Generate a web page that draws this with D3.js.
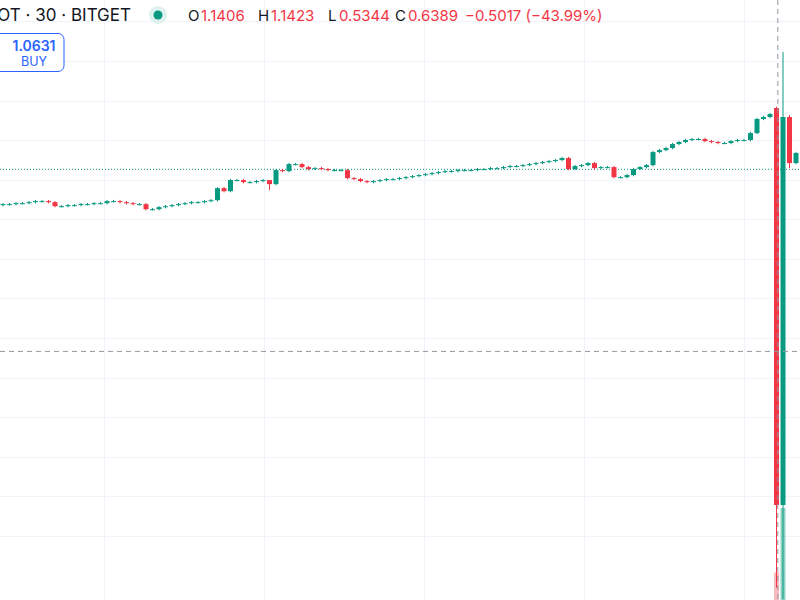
<!DOCTYPE html>
<html><head><meta charset="utf-8">
<script src="https://cdn.jsdelivr.net/npm/d3@7"></script>
<style>body{margin:0;background:#fff;}svg{display:block;font-family:"Inter","Noto Sans",sans-serif;}</style>
</head><body><svg id="c" width="800" height="600"></svg>
<script>
const closes = [1.0191,1.0191,1.0203,1.0203,1.0216,1.0229,1.0229,1.0216,1.0165,1.0165,
1.0178,1.0178,1.0191,1.0191,1.0203,1.0203,1.0229,1.0229,1.0216,1.0203,
1.0191,1.0191,1.0127,1.0127,1.0153,1.0165,1.0178,1.0191,1.0203,1.0216,
1.0216,1.0229,1.0241,1.0393,1.0355,1.0495,1.0495,1.0469,1.0469,1.0482,
1.0495,1.0444,1.0621,1.0608,1.0697,1.0697,1.0659,1.0634,1.0646,1.0634,
1.0621,1.0621,1.0621,1.0520,1.0507,1.0482,1.0469,1.0482,1.0495,1.0507,
1.0507,1.0520,1.0532,1.0545,1.0558,1.0570,1.0583,1.0596,1.0608,1.0608,
1.0621,1.0621,1.0621,1.0634,1.0634,1.0646,1.0646,1.0659,1.0672,1.0672,
1.0684,1.0697,1.0710,1.0722,1.0735,1.0748,1.0773,1.0634,1.0672,1.0684,
1.0710,1.0646,1.0659,1.0659,1.0532,1.0532,1.0558,1.0634,1.0659,1.0684,
1.0849,1.0874,1.0900,1.0950,1.0976,1.1001,1.1014,1.1014,1.0988,1.0976,
1.0963,1.0963,1.0988,1.1001,1.1001,1.1089,1.1267,1.1292,1.1330,
0.6389,1.1292,1.0710,1.0837];
const firstOpen = 1.0178;
const opensOverride = {119:1.1406, 122:1.0710};
const highsOverride = {41:1.0490, 119:1.1423, 120:1.2115, 121:1.1317, 33:1.0405};
const lowsOverride = {41:1.0368, 119:0.5344, 120:0.5200, 121:1.0646};
const volumes = [{i:119, v:0.3}, {i:120, v:1.0}];
const priceTicks = d3.range(0.6, 1.36, 0.05);
const lastPrice = 1.0631, crossPrice = 0.833, crossIndex = 119.2;

const svg = d3.select("#c");
const y = d3.scaleLinear().domain([1.1406, 0.6389]).range([108, 505]);
const x = d3.scaleLinear().domain([0, 1]).range([3, 9.5]);
const vy = d3.scaleLinear().domain([0, 1]).range([600, 508]);

svg.append("g").selectAll("line").data(priceTicks).join("line")
 .attr("x1",0).attr("x2",800).attr("y1",d=>Math.round(y(d))+0.5).attr("y2",d=>Math.round(y(d))+0.5)
 .attr("stroke","#f0f3fa");
svg.append("g").selectAll("line").data([15.6,40.2,64.8,89.4,114]).join("line")
 .attr("y1",0).attr("y2",600).attr("x1",d=>Math.round(x(d))+0.5).attr("x2",d=>Math.round(x(d))+0.5)
 .attr("stroke","#f0f3fa");

svg.append("line").attr("x1",0).attr("x2",800).attr("y1",y(lastPrice)).attr("y2",y(lastPrice))
 .attr("stroke","#089981").attr("stroke-dasharray","1,2").attr("stroke-width",1);

const data = closes.map((c,i)=>{
  const o = opensOverride[i] ?? (i===0?firstOpen:closes[i-1]);
  const h = highsOverride[i] ?? Math.max(o,c)+0.0015;
  const l = lowsOverride[i] ?? Math.min(o,c)-0.0015;
  return {i,o,c,h,l};
});

svg.append("g").selectAll("rect").data(volumes).join("rect")
 .attr("x",d=>x(d.i)-2.5).attr("width",5).attr("y",d=>vy(d.v)).attr("height",d=>600-vy(d.v))
 .attr("fill",d=>data[d.i].c>=data[d.i].o?"rgba(8,153,129,0.45)":"rgba(242,54,69,0.35)");

const col = d=>d.c>=d.o?"#089981":"#F23645";
const g = svg.append("g");
g.selectAll("line").data(data).join("line")
 .attr("x1",d=>x(d.i)).attr("x2",d=>x(d.i)).attr("y1",d=>y(d.h)).attr("y2",d=>y(d.l))
 .attr("stroke",col).attr("stroke-width",1);
g.selectAll("rect").data(data).join("rect")
 .attr("x",d=>x(d.i)-2.5).attr("width",5)
 .attr("y",d=>y(Math.max(d.o,d.c))).attr("height",d=>Math.max(1,Math.abs(y(d.o)-y(d.c))))
 .attr("fill",col);

svg.append("line").attr("x1",0).attr("x2",800).attr("y1",y(crossPrice)).attr("y2",y(crossPrice))
 .attr("stroke","#9598a1").attr("stroke-dasharray","5,4");
svg.append("line").attr("x1",x(crossIndex)).attr("x2",x(crossIndex)).attr("y1",0).attr("y2",600)
 .attr("stroke","#9598a1").attr("stroke-dasharray","5,4");

svg.append("text").attr("x",131).attr("y",21).attr("text-anchor","end").attr("font-size",17).attr("fill","#131722").text("DOT · 30 · BITGET");
svg.append("circle").attr("cx",158).attr("cy",15).attr("r",9).attr("fill","#e0f2ef");
svg.append("circle").attr("cx",158).attr("cy",15).attr("r",4.5).attr("fill","#089981");
const hdrItems = [["O","#131722",188],["1.1406","#F23645",201],["H","#131722",258],["1.1423","#F23645",271],
 ["L","#131722",328],["0.5344","#F23645",339],["C","#131722",395],["0.6389","#F23645",408],["−0.5017 (−43.99%)","#F23645",465]];
svg.append("g").selectAll("text").data(hdrItems).join("text")
 .attr("x",d=>d[2]).attr("y",21).attr("font-size",15).attr("fill",d=>d[1]).text(d=>d[0]);

svg.append("rect").attr("x",-6).attr("y",33.5).attr("width",70).attr("height",38).attr("rx",6)
 .attr("fill","#fff").attr("stroke","#2962FF").attr("stroke-width",1);
svg.append("text").attr("x",34).attr("y",51).attr("text-anchor","middle").attr("font-size",14).attr("font-weight",600).attr("fill","#2962FF").text("1.0631");
svg.append("text").attr("x",34).attr("y",66).attr("text-anchor","middle").attr("font-size",12.5).attr("fill","#2962FF").text("BUY");
</script></body></html>
